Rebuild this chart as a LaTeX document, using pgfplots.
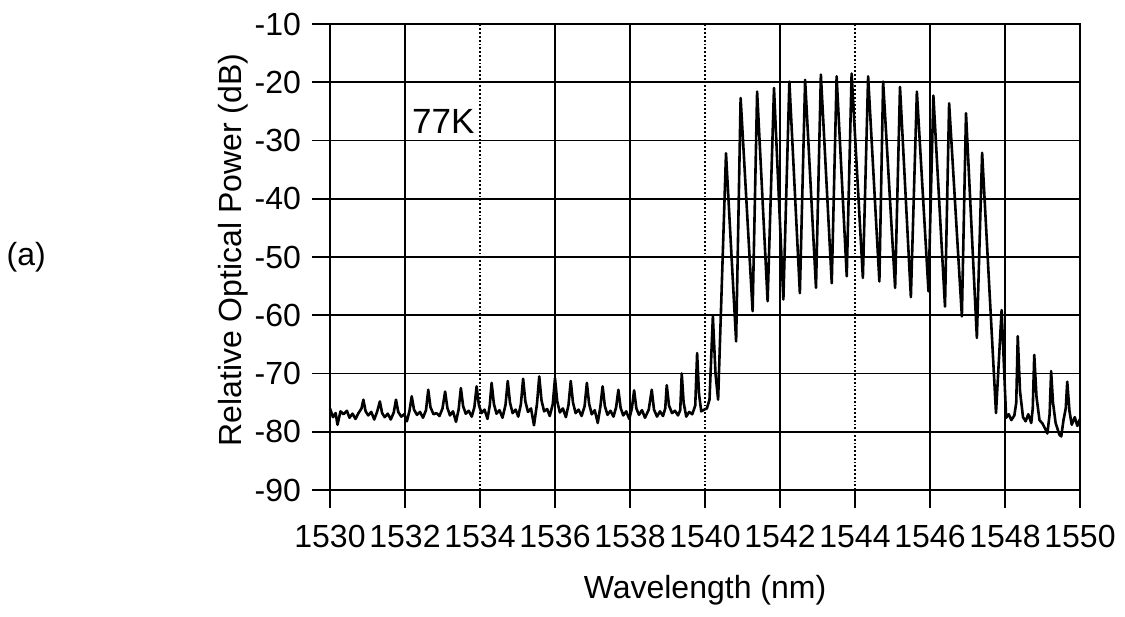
\documentclass[border=0pt]{standalone}
\usepackage{fontspec}
\setmainfont{Liberation Sans}
\usepackage{pgfplots}
\pgfplotsset{compat=1.18}
\begin{document}
\fontsize{16}{19}\selectfont
\begin{tikzpicture}
\begin{axis}[
  scale only axis,
  width=375pt, height=233pt,
  at={(0,0)}, anchor=south west,
  xmin=1530, xmax=1550, ymin=-90, ymax=-10,
  xtick={1530,1532,1536,1538,1542,1546,1548,1550},
  extra x ticks={1534,1540,1544},
  extra x tick style={major grid style={black, densely dotted, line width=0.7pt}},
  ytick={-90,-80,...,-10},
  /pgf/number format/1000 sep={},
  /pgf/number format/assume math mode=true,
  tick pos=left,
  tick align=outside,
  major tick length=9pt,
  tick style={black, line width=0.9pt},
  grid=major,
  major grid style={black, line width=0.9pt},
  axis line style={black, line width=0.9pt},
  xticklabel style={yshift=-3pt, font=\fontsize{16}{19}\selectfont},
  yticklabel style={font=\fontsize{16}{19}\selectfont},
  xlabel={Wavelength (nm)},
  ylabel={Relative Optical Power (dB)},
  xlabel style={at={(axis description cs:0.5,-0.2146)}, anchor=center, font=\fontsize{16}{19}\selectfont},
  ylabel style={at={(axis description cs:-0.1293,0.515)}, anchor=center, font=\fontsize{16}{19}\selectfont},
  clip=false,
]
\addplot[black, line width=1.3pt, line join=round] coordinates {
(1530.00,-76.0) (1530.08,-77.5) (1530.15,-76.8) (1530.20,-78.8) (1530.28,-76.5)
(1530.36,-77.0) (1530.45,-76.4) (1530.52,-77.6) (1530.60,-76.9) (1530.68,-77.8)
(1530.76,-76.8) (1530.84,-76.0) (1530.89,-74.5) (1530.95,-76.5) (1531.02,-77.2)
(1531.10,-76.6) (1531.18,-77.9) (1531.26,-76.5) (1531.33,-74.8) (1531.39,-76.8)
(1531.46,-77.5) (1531.54,-76.9) (1531.62,-77.9) (1531.70,-76.7) (1531.76,-74.5)
(1531.82,-76.6) (1531.90,-77.4) (1531.98,-77.0) (1532.05,-78.2) (1532.12,-76.4)
(1532.18,-73.9) (1532.24,-76.2) (1532.32,-77.1) (1532.40,-76.6) (1532.48,-77.6)
(1532.56,-76.3) (1532.62,-72.8) (1532.68,-75.8) (1532.76,-77.0) (1532.84,-76.8)
(1532.92,-77.3) (1533.00,-76.0) (1533.07,-73.1) (1533.13,-75.9) (1533.20,-77.2)
(1533.28,-76.5) (1533.36,-78.3) (1533.43,-76.2) (1533.49,-72.5) (1533.55,-75.6)
(1533.62,-76.9) (1533.70,-76.4) (1533.78,-77.4) (1533.85,-75.8) (1533.91,-72.2)
(1533.97,-75.4) (1534.04,-76.8) (1534.12,-76.2) (1534.20,-77.8) (1534.26,-75.5)
(1534.31,-71.6) (1534.37,-75.2) (1534.44,-76.9) (1534.52,-76.3) (1534.60,-77.6)
(1534.68,-75.4) (1534.74,-71.3) (1534.80,-75.0) (1534.87,-76.8) (1534.95,-76.2)
(1535.02,-77.4) (1535.09,-75.3) (1535.15,-70.9) (1535.21,-74.8) (1535.28,-76.6)
(1535.36,-76.0) (1535.44,-78.9) (1535.52,-75.2) (1535.58,-70.5) (1535.64,-74.6)
(1535.71,-76.5) (1535.79,-76.1) (1535.86,-77.3) (1535.94,-75.3) (1536.00,-70.8)
(1536.06,-74.8) (1536.13,-76.7) (1536.21,-76.0) (1536.29,-77.5) (1536.36,-75.4)
(1536.42,-71.3) (1536.48,-75.0) (1536.55,-76.8) (1536.63,-76.2) (1536.71,-77.3)
(1536.79,-75.6) (1536.85,-71.6) (1536.91,-75.2) (1536.98,-77.0) (1537.06,-76.3)
(1537.14,-78.5) (1537.21,-75.7) (1537.27,-72.2) (1537.33,-75.6) (1537.40,-77.1)
(1537.48,-76.4) (1537.56,-77.4) (1537.63,-75.8) (1537.69,-72.8) (1537.75,-75.9)
(1537.82,-77.2) (1537.90,-76.5) (1537.98,-77.8) (1538.05,-76.0) (1538.11,-72.9)
(1538.17,-76.0) (1538.24,-77.1) (1538.32,-76.3) (1538.40,-77.6) (1538.50,-76.2)
(1538.58,-72.8) (1538.64,-76.2) (1538.72,-77.4) (1538.80,-76.5) (1538.88,-77.3)
(1538.94,-76.0) (1538.98,-72.0) (1539.04,-75.5) (1539.12,-76.8) (1539.20,-76.4)
(1539.28,-77.2) (1539.34,-76.3) (1539.38,-70.0) (1539.43,-75.0) (1539.50,-77.4)
(1539.58,-76.6) (1539.66,-77.0) (1539.74,-75.5) (1539.79,-66.5) (1539.84,-73.5)
(1539.90,-76.5) (1539.98,-76.2) (1540.05,-76.0) (1540.12,-74.5) (1540.21,-60.2)
(1540.28,-70.0) (1540.35,-74.5)
(1540.56,-32.2) (1540.83,-64.5) (1540.95,-22.7) (1541.27,-59.3) (1541.39,-21.6)
(1541.67,-57.6) (1541.84,-21.0) (1542.09,-57.3) (1542.25,-19.9) (1542.53,-56.2)
(1542.67,-19.6) (1542.96,-55.3) (1543.09,-18.7) (1543.38,-54.5) (1543.51,-19.0)
(1543.78,-53.3) (1543.91,-18.5) (1544.21,-53.6) (1544.35,-19.0) (1544.65,-54.2)
(1544.75,-19.9) (1545.07,-55.3) (1545.20,-20.8) (1545.49,-56.9) (1545.65,-21.6)
(1545.96,-55.9) (1546.09,-22.3) (1546.40,-58.5) (1546.51,-23.6) (1546.85,-60.2)
(1546.96,-25.3) (1547.25,-63.9) (1547.39,-32.1) (1547.76,-76.8) (1547.91,-59.1)
(1548.03,-77.6) (1548.10,-77.0) (1548.17,-78.0) (1548.25,-77.2) (1548.30,-75.0)
(1548.34,-63.6) (1548.40,-73.0) (1548.48,-77.5) (1548.55,-78.2) (1548.62,-77.0)
(1548.70,-78.5) (1548.74,-76.0) (1548.78,-66.8) (1548.84,-74.0) (1548.92,-78.0)
(1549.00,-78.6) (1549.08,-79.6) (1549.13,-80.3) (1549.19,-77.0) (1549.23,-69.6)
(1549.28,-75.0) (1549.35,-78.5) (1549.45,-80.5) (1549.50,-80.8) (1549.56,-78.0)
(1549.62,-76.0) (1549.66,-71.4) (1549.72,-76.5) (1549.78,-78.8) (1549.86,-77.5)
(1549.93,-79.0) (1550.00,-77.8)
};
\node[anchor=base west, inner sep=0pt, font=\fontsize{17.5}{20}\selectfont] at (axis cs:1532.18,-28.8) {77K};
\node[anchor=center, inner sep=0pt, font=\fontsize{16}{19}\selectfont] at (axis description cs:-0.405,0.5) {(a)};
\end{axis}
\pgfresetboundingbox
\path ([shift={(-165pt,-63.5pt)}]current axis.south west) rectangle ([shift={(22.5pt,12pt)}]current axis.north east);
\end{tikzpicture}
\end{document}
